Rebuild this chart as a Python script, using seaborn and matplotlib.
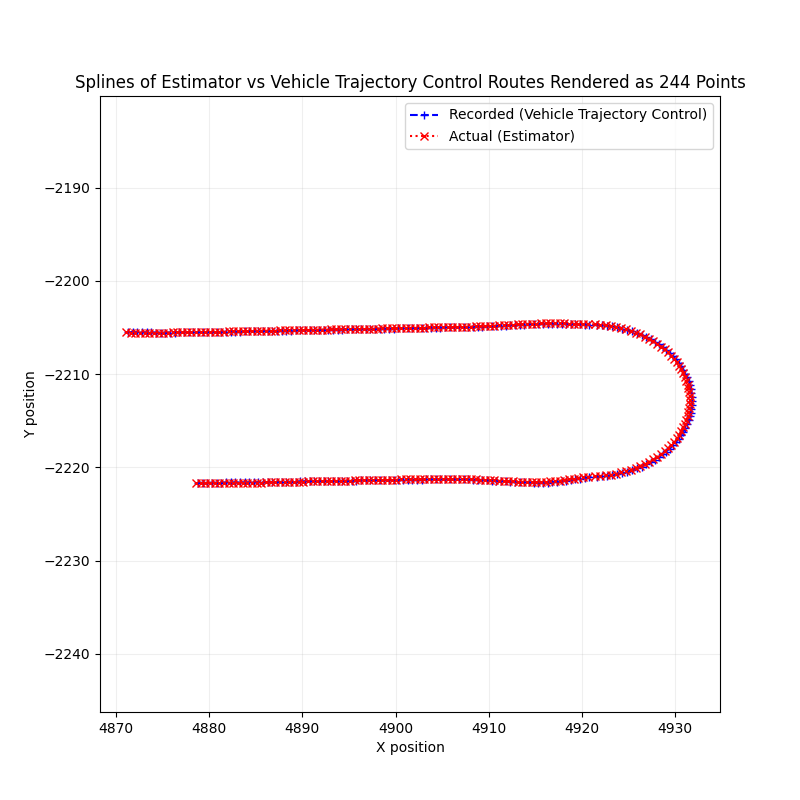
import matplotlib
matplotlib.use("Agg")
import matplotlib.pyplot as plt
import seaborn as sns
import numpy as np
import pandas as pd

plt.rcParams["figure.figsize"] = (8, 8)

title = "Splines of Estimator vs Vehicle Trajectory Control Routes Rendered as 244 Points"
label_rec = "Recorded (Vehicle Trajectory Control)"
label_act = "Actual (Estimator)"

## RECORDED (vehicle trajectory control) : bottom leg -> U turn -> top leg
rec_x = [
    4878.8, 4879.3, 4879.8, 4880.3, 4880.8, 4881.3, 4881.8, 4882.3, 4882.8, 4883.3,
    4883.8, 4884.3, 4884.8, 4885.3, 4885.8, 4886.3, 4886.8, 4887.3, 4887.8, 4888.3,
    4888.8, 4889.3, 4889.8, 4890.3, 4890.8, 4891.3, 4891.8, 4892.3, 4892.8, 4893.3,
    4893.8, 4894.3, 4894.8, 4895.3, 4895.8, 4896.3, 4896.8, 4897.3, 4897.8, 4898.3,
    4898.8, 4899.3, 4899.8, 4900.3, 4900.8, 4901.3, 4901.8, 4902.3, 4902.8, 4903.3,
    4903.8, 4904.3, 4904.8, 4905.3, 4905.8, 4906.3, 4906.8, 4907.3, 4907.8, 4908.3,
    4908.8, 4909.3, 4909.8, 4910.3, 4910.8, 4911.3, 4911.8, 4912.3, 4912.8, 4913.3,
    4913.8, 4914.3, 4914.8, 4915.3, 4915.8, 4916.3, 4916.8, 4917.3, 4917.8, 4918.3,
    4918.8, 4919.3, 4919.8, 4920.3, 4920.8,
    4921.57, 4922.13, 4922.69, 4923.25, 4923.80, 4924.34, 4924.87, 4925.39, 4925.90, 4926.40,
    4926.88, 4927.35, 4927.80, 4928.23, 4928.64, 4929.03, 4929.39, 4929.74, 4930.06, 4930.35,
    4930.62, 4930.87, 4931.08, 4931.27, 4931.43, 4931.56, 4931.67, 4931.74, 4931.79, 4931.80,
    4931.79, 4931.74, 4931.67, 4931.56, 4931.43, 4931.27, 4931.08, 4930.87, 4930.62, 4930.35,
    4930.06, 4929.74, 4929.39, 4929.03, 4928.64, 4928.23, 4927.80, 4927.35, 4926.88, 4926.40,
    4925.90, 4925.39, 4924.87, 4924.34, 4923.80, 4923.25, 4922.69, 4922.13, 4921.57,
    4920.8, 4920.3, 4919.8, 4919.3, 4918.8, 4918.3, 4917.8, 4917.3, 4916.8, 4916.3,
    4915.8, 4915.3, 4914.8, 4914.3, 4913.8, 4913.3, 4912.8, 4912.3, 4911.8, 4911.3,
    4910.8, 4910.3, 4909.8, 4909.3, 4908.8, 4908.3, 4907.8, 4907.3, 4906.8, 4906.3,
    4905.8, 4905.3, 4904.8, 4904.3, 4903.8, 4903.3, 4902.8, 4902.3, 4901.8, 4901.3,
    4900.8, 4900.3, 4899.8, 4899.3, 4898.8, 4898.3, 4897.8, 4897.3, 4896.8, 4896.3,
    4895.8, 4895.3, 4894.8, 4894.3, 4893.8, 4893.3, 4892.8, 4892.3, 4891.8, 4891.3,
    4890.8, 4890.3, 4889.8, 4889.3, 4888.8, 4888.3, 4887.8, 4887.3, 4886.8, 4886.3,
    4885.8, 4885.3, 4884.8, 4884.3, 4883.8, 4883.3, 4882.8, 4882.3, 4881.8, 4881.3,
    4880.8, 4880.3, 4879.8, 4879.3, 4878.8, 4878.3, 4877.8, 4877.3, 4876.8, 4876.3,
    4875.8, 4875.3, 4874.8, 4874.3, 4873.8, 4873.3, 4872.8, 4872.3, 4871.8, 4871.3,
]
rec_y = [
    -2221.65, -2221.65, -2221.64, -2221.64, -2221.63, -2221.63, -2221.62, -2221.62, -2221.62, -2221.61,
    -2221.61, -2221.60, -2221.60, -2221.60, -2221.59, -2221.59, -2221.58, -2221.58, -2221.57, -2221.56,
    -2221.55, -2221.52, -2221.50, -2221.50, -2221.49, -2221.49, -2221.48, -2221.48, -2221.47, -2221.47,
    -2221.46, -2221.45, -2221.44, -2221.42, -2221.41, -2221.40, -2221.40, -2221.39, -2221.39, -2221.38,
    -2221.38, -2221.37, -2221.37, -2221.36, -2221.35, -2221.34, -2221.33, -2221.32, -2221.31, -2221.30,
    -2221.30, -2221.29, -2221.29, -2221.28, -2221.28, -2221.28, -2221.29, -2221.29, -2221.30, -2221.31,
    -2221.33, -2221.35, -2221.38, -2221.41, -2221.44, -2221.47, -2221.50, -2221.53, -2221.56, -2221.58,
    -2221.60, -2221.62, -2221.63, -2221.64, -2221.64, -2221.63, -2221.60, -2221.55, -2221.50, -2221.44,
    -2221.36, -2221.28, -2221.20, -2221.12, -2221.05,
    -2220.99, -2220.96, -2220.90, -2220.82, -2220.72, -2220.60, -2220.46, -2220.30, -2220.11, -2219.91,
    -2219.69, -2219.44, -2219.18, -2218.91, -2218.61, -2218.30, -2217.98, -2217.64, -2217.29, -2216.93,
    -2216.55, -2216.16, -2215.77, -2215.37, -2214.96, -2214.54, -2214.12, -2213.70, -2213.28, -2212.85,
    -2212.42, -2212.00, -2211.58, -2211.16, -2210.74, -2210.33, -2209.93, -2209.54, -2209.15, -2208.77,
    -2208.41, -2208.06, -2207.72, -2207.40, -2207.09, -2206.79, -2206.52, -2206.26, -2206.01, -2205.79,
    -2205.59, -2205.40, -2205.24, -2205.10, -2204.98, -2204.88, -2204.80, -2204.74, -2204.71,
    -2204.69, -2204.67, -2204.65, -2204.63, -2204.62, -2204.61, -2204.60, -2204.60, -2204.60, -2204.60,
    -2204.61, -2204.62, -2204.63, -2204.65, -2204.67, -2204.69, -2204.72, -2204.75, -2204.78, -2204.81,
    -2204.84, -2204.86, -2204.88, -2204.90, -2204.92, -2204.93, -2204.94, -2204.95, -2204.96, -2204.97,
    -2204.98, -2204.99, -2205.00, -2205.01, -2205.02, -2205.03, -2205.04, -2205.05, -2205.06, -2205.07,
    -2205.08, -2205.09, -2205.10, -2205.11, -2205.12, -2205.13, -2205.14, -2205.15, -2205.16, -2205.17,
    -2205.18, -2205.19, -2205.20, -2205.21, -2205.22, -2205.23, -2205.24, -2205.25, -2205.26, -2205.27,
    -2205.28, -2205.29, -2205.30, -2205.31, -2205.32, -2205.33, -2205.34, -2205.35, -2205.36, -2205.37,
    -2205.38, -2205.39, -2205.40, -2205.41, -2205.42, -2205.43, -2205.44, -2205.45, -2205.46, -2205.47,
    -2205.48, -2205.49, -2205.50, -2205.50, -2205.51, -2205.51, -2205.52, -2205.52, -2205.52, -2205.53,
    -2205.53, -2205.53, -2205.53, -2205.53, -2205.52, -2205.52, -2205.51, -2205.50, -2205.49, -2205.48,
]

## ACTUAL (estimator)
act_x = [
    4878.6, 4879.1, 4879.6, 4880.1, 4880.6, 4881.1, 4881.6, 4882.1, 4882.6, 4883.1,
    4883.6, 4884.1, 4884.6, 4885.1, 4885.6, 4886.1, 4886.6, 4887.1, 4887.6, 4888.1,
    4888.6, 4889.1, 4889.6, 4890.1, 4890.6, 4891.1, 4891.6, 4892.1, 4892.6, 4893.1,
    4893.6, 4894.1, 4894.6, 4895.1, 4895.6, 4896.1, 4896.6, 4897.1, 4897.6, 4898.1,
    4898.6, 4899.1, 4899.6, 4900.1, 4900.6, 4901.1, 4901.6, 4902.1, 4902.6, 4903.1,
    4903.6, 4904.1, 4904.6, 4905.1, 4905.6, 4906.1, 4906.6, 4907.1, 4907.6, 4908.1,
    4908.6, 4909.1, 4909.6, 4910.1, 4910.6, 4911.1, 4911.6, 4912.1, 4912.6, 4913.1,
    4913.6, 4914.1, 4914.6, 4915.1, 4915.6, 4916.1, 4916.6, 4917.1, 4917.6, 4918.1,
    4918.6, 4919.1, 4919.6, 4920.1, 4920.6,
    4921.42, 4921.98, 4922.54, 4923.10, 4923.65, 4924.19, 4924.72, 4925.24, 4925.75, 4926.25,
    4926.73, 4927.20, 4927.65, 4928.08, 4928.49, 4928.88, 4929.24, 4929.58, 4929.89, 4930.17,
    4930.43, 4930.67, 4930.87, 4931.05, 4931.20, 4931.32, 4931.42, 4931.49, 4931.54, 4931.55,
    4931.54, 4931.49, 4931.42, 4931.32, 4931.20, 4931.05, 4930.87, 4930.67, 4930.43, 4930.17,
    4929.89, 4929.58, 4929.24, 4928.88, 4928.49, 4928.08, 4927.65, 4927.20, 4926.73, 4926.25,
    4925.75, 4925.24, 4924.72, 4924.19, 4923.65, 4923.10, 4922.54, 4921.98, 4921.42,
    4920.6, 4920.1, 4919.6, 4919.1, 4918.6, 4918.1, 4917.6, 4917.1, 4916.6, 4916.1,
    4915.6, 4915.1, 4914.6, 4914.1, 4913.6, 4913.1, 4912.6, 4912.1, 4911.6, 4911.1,
    4910.6, 4910.1, 4909.6, 4909.1, 4908.6, 4908.1, 4907.6, 4907.1, 4906.6, 4906.1,
    4905.6, 4905.1, 4904.6, 4904.1, 4903.6, 4903.1, 4902.6, 4902.1, 4901.6, 4901.1,
    4900.6, 4900.1, 4899.6, 4899.1, 4898.6, 4898.1, 4897.6, 4897.1, 4896.6, 4896.1,
    4895.6, 4895.1, 4894.6, 4894.1, 4893.6, 4893.1, 4892.6, 4892.1, 4891.6, 4891.1,
    4890.6, 4890.1, 4889.6, 4889.1, 4888.6, 4888.1, 4887.6, 4887.1, 4886.6, 4886.1,
    4885.6, 4885.1, 4884.6, 4884.1, 4883.6, 4883.1, 4882.6, 4882.1, 4881.6, 4881.1,
    4880.6, 4880.1, 4879.6, 4879.1, 4878.6, 4878.1, 4877.6, 4877.1, 4876.6, 4876.1,
    4875.6, 4875.1, 4874.6, 4874.1, 4873.6, 4873.1, 4872.6, 4872.1, 4871.6, 4871.1,
]
act_y = [
    -2221.70, -2221.69, -2221.69, -2221.68, -2221.68, -2221.67, -2221.67, -2221.66, -2221.66, -2221.65,
    -2221.65, -2221.64, -2221.64, -2221.63, -2221.63, -2221.62, -2221.62, -2221.61, -2221.60, -2221.59,
    -2221.57, -2221.55, -2221.53, -2221.52, -2221.51, -2221.50, -2221.50, -2221.49, -2221.48, -2221.47,
    -2221.46, -2221.45, -2221.43, -2221.41, -2221.40, -2221.39, -2221.38, -2221.37, -2221.36, -2221.35,
    -2221.34, -2221.33, -2221.32, -2221.31, -2221.30, -2221.29, -2221.28, -2221.27, -2221.26, -2221.25,
    -2221.24, -2221.24, -2221.23, -2221.23, -2221.23, -2221.24, -2221.24, -2221.25, -2221.26, -2221.27,
    -2221.29, -2221.31, -2221.34, -2221.37, -2221.40, -2221.43, -2221.46, -2221.49, -2221.51, -2221.53,
    -2221.55, -2221.56, -2221.57, -2221.57, -2221.56, -2221.54, -2221.51, -2221.47, -2221.42, -2221.36,
    -2221.29, -2221.22, -2221.15, -2221.08, -2221.01,
    -2220.94, -2220.91, -2220.85, -2220.77, -2220.67, -2220.55, -2220.41, -2220.25, -2220.06, -2219.86,
    -2219.64, -2219.39, -2219.13, -2218.86, -2218.56, -2218.25, -2217.93, -2217.59, -2217.24, -2216.88,
    -2216.50, -2216.11, -2215.72, -2215.32, -2214.91, -2214.49, -2214.07, -2213.65, -2213.23, -2212.80,
    -2212.37, -2211.95, -2211.53, -2211.11, -2210.69, -2210.28, -2209.88, -2209.49, -2209.10, -2208.72,
    -2208.36, -2208.01, -2207.67, -2207.35, -2207.04, -2206.74, -2206.47, -2206.21, -2205.96, -2205.74,
    -2205.54, -2205.35, -2205.19, -2205.05, -2204.93, -2204.83, -2204.75, -2204.69, -2204.66,
    -2204.64, -2204.62, -2204.60, -2204.58, -2204.57, -2204.56, -2204.55, -2204.55, -2204.55, -2204.55,
    -2204.56, -2204.57, -2204.58, -2204.60, -2204.62, -2204.64, -2204.67, -2204.70, -2204.73, -2204.76,
    -2204.79, -2204.82, -2204.84, -2204.86, -2204.88, -2204.90, -2204.91, -2204.92, -2204.93, -2204.94,
    -2204.95, -2204.96, -2204.97, -2204.98, -2204.99, -2205.00, -2205.01, -2205.02, -2205.03, -2205.04,
    -2205.05, -2205.06, -2205.07, -2205.08, -2205.09, -2205.10, -2205.11, -2205.12, -2205.13, -2205.14,
    -2205.15, -2205.16, -2205.17, -2205.18, -2205.19, -2205.20, -2205.21, -2205.22, -2205.23, -2205.24,
    -2205.25, -2205.26, -2205.27, -2205.28, -2205.29, -2205.30, -2205.31, -2205.32, -2205.33, -2205.34,
    -2205.35, -2205.36, -2205.37, -2205.38, -2205.39, -2205.40, -2205.41, -2205.42, -2205.43, -2205.44,
    -2205.45, -2205.46, -2205.47, -2205.48, -2205.49, -2205.50, -2205.51, -2205.51, -2205.52, -2205.52,
    -2205.53, -2205.53, -2205.54, -2205.54, -2205.54, -2205.54, -2205.54, -2205.53, -2205.53, -2205.52,
]

df_rec = pd.DataFrame({"x": rec_x, "y": rec_y})
df_act = pd.DataFrame({"x": act_x, "y": act_y})

fig, ax = plt.subplots(figsize=(8, 8), dpi=100)

sns.lineplot(data=df_rec, x="x", y="y", sort=False, estimator=None, ax=ax,
             color="blue", linestyle="--", marker="+", markersize=6,
             markeredgecolor="blue", markeredgewidth=1.0, linewidth=1.5,
             label=label_rec)
sns.lineplot(data=df_act, x="x", y="y", sort=False, estimator=None, ax=ax,
             color="red", linestyle=":", marker="x", markersize=6,
             markeredgecolor="red", markeredgewidth=1.0, linewidth=1.5,
             label=label_act)

# equal scale on both axes (same px per unit)
ax.set_xlim(4868.3, 4934.8)
ax.set_ylim(-2246.25, -2180.15)
ax.grid(True, alpha=0.2)
ax.set_title(title)
ax.set_xlabel("X position")
ax.set_ylabel("Y position")
ax.legend(loc="upper right")

plt.savefig("out.png", dpi=100)
